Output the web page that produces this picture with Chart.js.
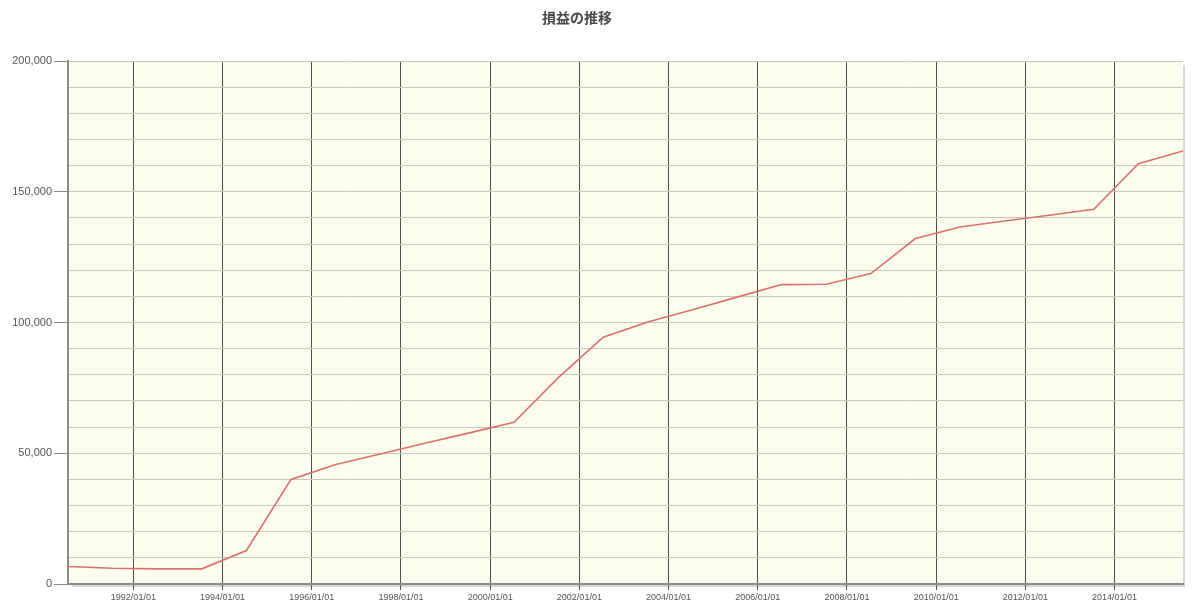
<!DOCTYPE html>
<html>
<head>
<meta charset="utf-8">
<script src="https://cdn.jsdelivr.net/npm/chart.js@4/dist/chart.umd.min.js"></script>
<style>
  html, body { margin: 0; padding: 0; background: #fff; }
  canvas { display: block; }
</style>
</head>
<body>
<canvas class="grafico" width="1200" height="609"></canvas>
<script>
const titulo = "損益の推移";

// one value per year, taken around the middle of the year
const years = [1990, 1991, 1992, 1993, 1994, 1995, 1996, 1997, 1998, 1999,
  2000, 2001, 2002, 2003, 2004, 2005, 2006, 2007, 2008, 2009,
  2010, 2011, 2012, 2013, 2014, 2015];
const profit = [6700, 6000, 5800, 5800, 12800, 40000, 45700, 49700, 53800, 57800,
  61800, 79000, 94400, 100200, 104900, 109700, 114500, 114600, 118700, 132100,
  136500, 138800, 141000, 143300, 160700, 165600];

const xTickLabels = ["1992/01/01", "1994/01/01", "1996/01/01", "1998/01/01",
  "2000/01/01", "2002/01/01", "2004/01/01", "2006/01/01", "2008/01/01",
  "2010/01/01", "2012/01/01", "2014/01/01"];
const yTickLabels = [0, 50000, 100000, 150000, 200000];

const canvas = document.querySelector('.grafico');

// date string -> decimal year
const toYear = (s) => {
  const [y, m, d] = s.split('/').map(Number);
  const start = Date.UTC(y, 0, 1);
  const end = Date.UTC(y + 1, 0, 1);
  return y + (Date.UTC(y, m - 1, d) - start) / (end - start);
};

const puntos = years.map((y, i) => ({ x: toYear(`${y}/07/15`), y: profit[i] }));
const tickYears = xTickLabels.map(toYear);

const fondo = {
  id: 'fondo',
  beforeDraw(chart) {
    const { ctx, chartArea: a } = chart;
    ctx.save();
    ctx.fillStyle = '#fdfdef';
    ctx.fillRect(a.left, a.top, a.right - a.left, a.bottom - a.top);
    // light shadow on the right and bottom edges
    ctx.strokeStyle = '#d6d6d6';
    ctx.lineWidth = 2;
    ctx.beginPath();
    ctx.moveTo(a.right + 1, a.top + 4);
    ctx.lineTo(a.right + 1, a.bottom + 2);
    ctx.lineTo(a.left + 4, a.bottom + 2);
    ctx.stroke();
    ctx.restore();
  },
  afterDraw(chart) {
    const { ctx } = chart;
    ctx.save();
    ctx.font = "bold 14px 'Noto Sans CJK JP'";
    ctx.fillStyle = '#4a4a4a';
    ctx.textAlign = 'center';
    ctx.textBaseline = 'middle';
    ctx.fillText(titulo, 577, 18);
    ctx.restore();
  }
};

const config = {
  type: 'line',
  data: {
    datasets: [{
      data: puntos,
      borderColor: '#d9706c',
      borderWidth: 1.6,
      pointRadius: 0,
      tension: 0,
      fill: false
    }]
  },
  options: {
    responsive: false,
    animation: false,
    layout: { padding: { top: 61, right: 17, bottom: 0, left: 0 } },
    plugins: {
      legend: { display: false },
      tooltip: { enabled: false },
      title: { display: false }
    },
    scales: {
      x: {
        type: 'linear',
        min: puntos[0].x,
        max: puntos[puntos.length - 1].x,
        afterBuildTicks: (s) => { s.ticks = tickYears.map(v => ({ value: v })); },
        afterFit: (s) => { s.height = 25; },
        ticks: {
          autoSkip: false,
          maxRotation: 0,
          padding: 2,
          color: '#555',
          font: { family: 'Liberation Sans', size: 9 },
          callback: (v, i) => xTickLabels[i]
        },
        grid: { color: '#4e4e4e', lineWidth: 1, tickLength: 6, tickColor: '#555' },
        border: { color: '#8a8a8a', width: 2 }
      },
      y: {
        min: 0,
        max: 200000,
        afterFit: (s) => { s.width = 68; },
        ticks: {
          stepSize: 10000,
          autoSkip: false,
          padding: 2,
          color: '#555',
          font: { family: 'Liberation Sans', size: 11 },
          callback: (v) => yTickLabels.includes(v) ? v.toLocaleString('en-US') : ''
        },
        grid: {
          color: '#c8c8be',
          lineWidth: 1,
          tickLength: 14,
          tickColor: (c) => yTickLabels.includes(c.tick && c.tick.value) ? '#8a8a8a' : 'rgba(0,0,0,0)'
        },
        border: { color: '#8a8a8a', width: 2 }
      }
    }
  },
  plugins: [fondo]
};

new Chart(canvas, config);
</script>
</body>
</html>
